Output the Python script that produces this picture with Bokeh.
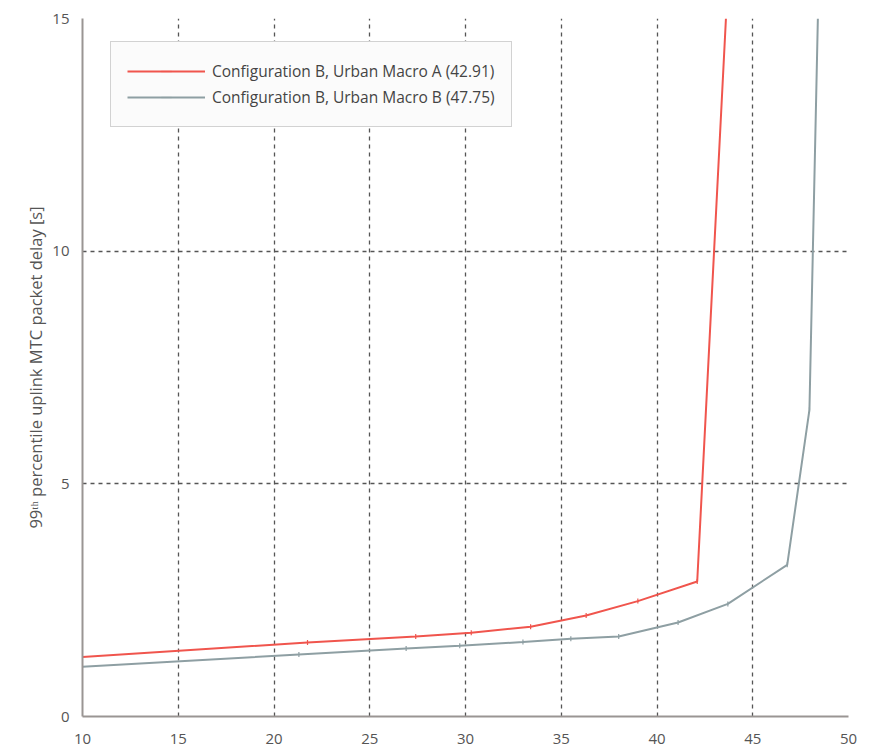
import math
from bokeh.plotting import figure
from bokeh.models import Range1d, FixedTicker
from bokeh.embed import file_html
from bokeh.resources import INLINE

# Data
ua_x = [10.0, 21.75, 27.4, 30.3, 33.4, 36.3, 39.0, 42.1, 43.6]
ua_y = [1.28, 1.59, 1.72, 1.80, 1.93, 2.17, 2.48, 2.90, 15.0]
ub_x = [10.0, 21.3, 26.9, 29.7, 33.0, 35.5, 38.0, 41.1, 43.7, 46.8, 47.96, 48.4]
ub_y = [1.07, 1.33, 1.46, 1.52, 1.60, 1.67, 1.72, 2.02, 2.42, 3.26, 6.59, 15.0]
label_a = "Configuration B, Urban Macro A (42.91)"
label_b = "Configuration B, Urban Macro B (47.75)"
x_ticks = [10, 15, 20, 25, 30, 35, 40, 45, 50]
y_ticks = [0, 5, 10, 15]

FONT = "Open Sans"
RED = "#f0554d"
GREY = "#8e9fa3"

p = figure(width=880, height=746, output_backend="svg", toolbar_location=None,
           x_range=Range1d(10, 50), y_range=Range1d(0, 15),
           min_border_left=82, min_border_top=18, min_border_right=32,
           min_border_bottom=29)
p.outline_line_color = None

p.line(ua_x, ua_y, line_color=RED, line_width=2, legend_label=label_a)
p.scatter(ua_x[1:-1], ua_y[1:-1], marker="dash", angle=math.pi / 2, size=5,
          line_color=RED, line_width=1.2, legend_label=label_a)
p.line(ub_x, ub_y, line_color=GREY, line_width=2, legend_label=label_b)
p.scatter(ub_x[1:-1], ub_y[1:-1], marker="dash", angle=math.pi / 2, size=5,
          line_color=GREY, line_width=1.2, legend_label=label_b)

for ax in (p.xaxis, p.yaxis):
    ax.axis_line_color = "#9a9593"
    ax.axis_line_width = 2
    ax.major_tick_line_color = None
    ax.minor_tick_line_color = None
    ax.major_label_text_font = FONT
    ax.major_label_text_font_size = "15px"
    ax.major_label_text_color = "#555555"

p.xaxis.ticker = FixedTicker(ticks=x_ticks)
p.yaxis.ticker = FixedTicker(ticks=y_ticks)
p.xaxis.major_label_standoff = 11
p.yaxis.major_label_standoff = 7

p.yaxis.axis_label = "99\u1d57\u02b0 percentile uplink MTC packet delay [s]"
p.yaxis.axis_label_text_font = FONT
p.yaxis.axis_label_text_font_style = "normal"
p.yaxis.axis_label_text_font_size = "16.5px"
p.yaxis.axis_label_text_color = "#555555"
p.yaxis.axis_label_standoff = 2

for g in (p.xgrid, p.ygrid):
    g.grid_line_color = "#555555"
    g.grid_line_dash = "4 4"
    g.grid_line_width = 1.3

leg = p.legend[0]
leg.location = (28, 589)
leg.margin = 0
leg.padding = 16
leg.spacing = 0
leg.glyph_width = 78
leg.glyph_height = 26
leg.label_height = 26
leg.label_standoff = 7
leg.label_text_font = FONT
leg.label_text_font_size = "15.5px"
leg.label_text_color = "#444444"
leg.border_line_color = "#aaaaaa"
leg.border_line_width = 1.5
leg.background_fill_color = "#fbfbfb"
leg.background_fill_alpha = 1.0

open("out.html", "w").write(file_html(p, INLINE))
